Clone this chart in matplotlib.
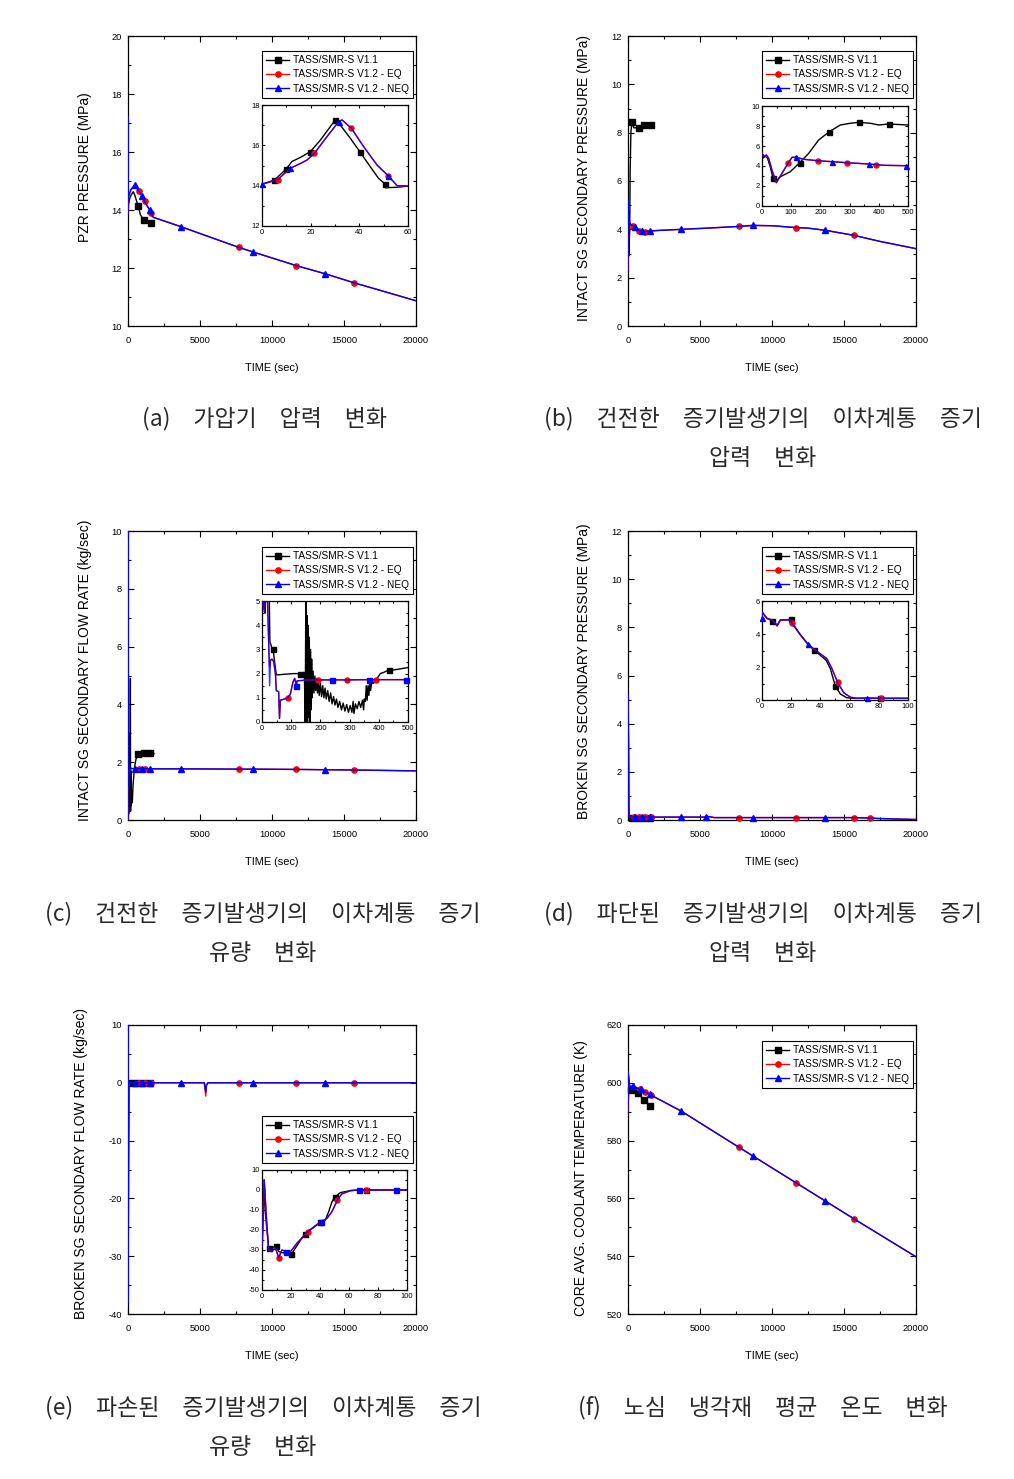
import numpy as np
import matplotlib
matplotlib.use('Agg')
import matplotlib.pyplot as plt
from matplotlib.ticker import MultipleLocator
from matplotlib.lines import Line2D
from matplotlib import font_manager

W, H = 1014, 1479
_names = {f.name for f in font_manager.fontManager.ttflist}
if 'Liberation Sans Narrow' in _names:
    NARROW = ['Liberation Sans Narrow', 'DejaVu Sans']
    NS = 1.0
else:
    NARROW = ['Liberation Sans', 'DejaVu Sans']
    NS = 0.86
SANS = ['Liberation Sans', 'DejaVu Sans']
KR = ['Noto Sans CJK KR', 'DejaVu Sans']
plt.rcParams['font.family'] = NARROW
plt.rcParams['axes.unicode_minus'] = False

# ---------------- text ----------------
LEGEND_LABELS = ['TASS/SMR-S V1.1', 'TASS/SMR-S V1.2 - EQ', 'TASS/SMR-S V1.2 - NEQ']
X_LABEL = 'TIME (sec)'
Y_LABELS = ['PZR PRESSURE (MPa)', 'INTACT SG SECONDARY PRESSURE (MPa)',
            'INTACT SG SECONDARY FLOW RATE (kg/sec)', 'BROKEN SG SECONDARY PRESSURE (MPa)',
            'BROKEN SG SECONDARY FLOW RATE (kg/sec)', 'CORE AVG. COOLANT TEMPERATURE (K)']
SP = '\u3000'
CAPTIONS = [
    ['(a)' + SP + '가압기' + SP + '압력' + SP + '변화'],
    ['(b)' + SP + '건전한' + SP + '증기발생기의' + SP + '이차계통' + SP + '증기', '압력' + SP + '변화'],
    ['(c)' + SP + '건전한' + SP + '증기발생기의' + SP + '이차계통' + SP + '증기', '유량' + SP + '변화'],
    ['(d)' + SP + '파단된' + SP + '증기발생기의' + SP + '이차계통' + SP + '증기', '압력' + SP + '변화'],
    ['(e)' + SP + '파손된' + SP + '증기발생기의' + SP + '이차계통' + SP + '증기', '유량' + SP + '변화'],
    ['(f)' + SP + '노심' + SP + '냉각재' + SP + '평균' + SP + '온도' + SP + '변화'],
]

# ---------------- data: (a) PZR pressure ----------------
a_t_v11 = [0, 40, 120, 250, 370, 480, 600, 715, 850, 1000, 1130, 1300, 1575, 1800]
a_p_v11 = [13.8, 14.2, 14.4, 14.55, 14.63, 14.5, 14.3, 14.15, 13.85, 13.72, 13.65, 13.6, 13.54, 13.52]
a_mk_v11 = [715, 1130, 1575]
a_t_eq = [0, 5, 15, 60, 200, 460, 760, 950, 1150, 1500, 1600, 1750, 3700, 7700, 8700, 11700, 13700, 15700, 20000]
a_p_eq = [13.9, 17.2, 14.4, 14.5, 14.7, 14.85, 14.65, 14.5, 14.3, 14.0, 13.88, 13.75, 13.42, 12.71, 12.55, 12.08, 11.8, 11.49, 10.87]
a_mk_eq = [760, 1150, 1600, 7700, 11700, 15700]
a_t_neq = [0, 5, 15, 60, 200, 460, 760, 950, 1150, 1500, 1600, 1750, 3700, 7700, 8700, 11700, 13700, 15700, 20000]
a_p_neq = [13.9, 17.2, 14.4, 14.5, 14.7, 14.86, 14.65, 14.5, 14.3, 14.0, 13.88, 13.75, 13.42, 12.71, 12.55, 12.08, 11.8, 11.49, 10.87]
a_mk_neq = [460, 950, 1500, 3700, 8700, 13700]
# inset (a)
ai_t_v11 = [0, 5.1, 10, 12.3, 15.8, 19.9, 24, 30.1, 32.2, 36.3, 40.4, 44.5, 47.9, 50.5, 50.7, 55.5, 60]
ai_p_v11 = [14.07, 14.28, 14.83, 15.2, 15.4, 15.69, 16.26, 17.26, 17.0, 16.35, 15.65, 14.94, 14.36, 14.1, 13.9, 13.92, 13.98]
ai_mk_v11 = [5.1, 10, 19.9, 30.1, 40.4, 50.5]
ai_t_eq = [0, 6.4, 11.6, 15.8, 18.5, 21.5, 26.7, 31.5, 32.9, 36.7, 41.8, 47.3, 51.8, 55.5, 60]
ai_p_eq = [14.07, 14.3, 14.86, 15.1, 15.27, 15.6, 16.43, 17.17, 17.26, 16.85, 15.93, 15.02, 14.5, 14.0, 13.98]
ai_mk_eq = [6.4, 21.5, 36.7, 51.8]
ai_t_neq = [0, 6.4, 11.6, 15.8, 18.5, 21.5, 26.7, 31.5, 32.9, 36.7, 41.8, 47.3, 51.8, 55.5, 60]
ai_p_neq = [14.07, 14.3, 14.86, 15.1, 15.27, 15.6, 16.43, 17.17, 17.26, 16.85, 15.93, 15.02, 14.5, 14.0, 13.98]
ai_mk_neq = [0, 11.6, 31.5, 51.8]

# ---------------- data: (b) intact SG pressure ----------------
b_t_v11 = [0, 30, 60, 90, 120, 150, 200, 230, 300, 400, 550, 760, 900, 1130, 1300, 1575, 1750]
b_p_v11 = [5.0, 4.7, 2.9, 3.5, 4.0, 6.4, 8.0, 8.2, 8.45, 8.2, 8.2, 8.2, 8.25, 8.3, 8.25, 8.3, 8.25]
b_mk_v11 = [300, 760, 1130, 1575]
b_t_eq = [0, 10, 25, 50, 100, 200, 345, 460, 760, 950, 1150, 1500, 2000, 3700, 5500, 7700, 8700, 10000, 11700, 12500, 13700, 15700, 17500, 20000]
b_p_eq = [2.3, 5.2, 4.7, 4.5, 4.3, 4.2, 4.14, 4.08, 3.95, 3.92, 3.9, 3.92, 3.95, 4.0, 4.05, 4.12, 4.15, 4.15, 4.07, 4.05, 3.96, 3.75, 3.5, 3.2]
b_mk_eq = [345, 760, 1150, 7700, 11700, 15700]
b_t_neq = b_t_eq
b_p_neq = [2.3, 5.2, 4.7, 4.5, 4.3, 4.2, 4.14, 4.1, 3.95, 3.92, 3.9, 3.93, 3.95, 4.0, 4.05, 4.12, 4.17, 4.15, 4.07, 4.05, 3.96, 3.75, 3.5, 3.2]
b_mk_neq = [460, 950, 1500, 3700, 8700, 13700]
# inset (b)
bi_t_v11 = [0, 5, 11, 19, 28.5, 37.7, 49, 62.8, 97, 129, 160, 194, 230.6, 268, 302, 331, 371, 400, 434, 500]
bi_p_v11 = [5.27, 4.8, 5.0, 4.77, 3.9, 2.77, 2.5, 2.93, 3.43, 4.33, 5.27, 6.6, 7.43, 8.1, 8.27, 8.37, 8.27, 8.1, 8.2, 8.1]
bi_mk_v11 = [37.7, 129, 230.6, 331, 434]
bi_t_eq = [0, 8, 15, 22.8, 34, 49, 68.5, 89, 103, 116, 143, 190.6, 240, 291, 365, 391, 417, 493, 500]
bi_p_eq = [5.27, 4.93, 5.1, 4.77, 3.6, 2.33, 3.27, 4.27, 4.87, 4.87, 4.67, 4.53, 4.43, 4.33, 4.2, 4.13, 4.07, 4.03, 4.03]
bi_mk_eq = [89, 190.6, 291, 391]
bi_t_neq = bi_t_eq
bi_p_neq = [5.27, 4.93, 5.1, 4.77, 3.6, 2.33, 3.27, 4.27, 4.87, 4.9, 4.67, 4.53, 4.43, 4.33, 4.2, 4.13, 4.07, 4.03, 4.03]
bi_mk_neq = [116, 240, 365, 493]

# ---------------- data: (c) intact SG flow ----------------
c_t_v11 = [0, 15, 30, 45, 60, 75, 90, 105, 120, 135, 150, 165, 180, 200, 230, 260, 300, 350, 450, 550, 700, 900, 1100, 1300, 1550, 1800]
c_f_v11 = [2.8, 0.1, 1.5, 0.2, 2.5, 3.0, 2.0, 0.3, 1.8, 0.6, 2.0, 4.9, 0.3, 1.7, 0.5, 1.0, 0.6, 1.2, 1.8, 2.1, 2.3, 2.35, 2.33, 2.33, 2.32, 2.3]
c_mk_v11 = [700, 1100, 1550]
c_t_eq = [0, 5, 20, 40, 80, 120, 200, 460, 760, 950, 1150, 1500, 3700, 7700, 8700, 11700, 13700, 15700, 20000]
c_f_eq = [0.0, 10.0, 2.5, 1.5, 1.2, 1.75, 1.78, 1.78, 1.78, 1.78, 1.78, 1.77, 1.77, 1.76, 1.76, 1.75, 1.74, 1.73, 1.7]
c_mk_eq = [760, 1150, 7700, 11700, 15700]
c_t_neq = c_t_eq
c_f_neq = c_f_eq
c_mk_neq = [460, 950, 1500, 3700, 8700, 13700]
# inset (c)
ci_t_v11 = [0, 8, 11, 14, 24, 27, 29, 34, 38, 43, 49, 57, 74, 108, 131, 143, 145, 148, 150, 152, 154, 156, 158, 160,
            162, 164, 166, 168, 170, 172, 175, 178, 181, 184, 187, 190, 193, 196, 200, 204, 208, 212, 216, 220, 225,
            230, 235, 240, 245, 250, 255, 260, 266, 272, 278, 284, 290, 296, 302, 308, 312, 315, 320, 326, 332, 338,
            344, 348, 350, 354, 357, 360, 363, 366, 369, 372, 376, 382, 394, 405, 417, 434, 451, 500]
ci_f_v11 = [6.0, 5.0, 4.5, 6.0, 6.0, 3.3, 3.25, 3.05, 3.0, 2.5, 1.95, 1.95, 1.97, 2.0, 2.0, 2.05, 2.05, 0.0, 5.0, 0.0,
            4.4, 0.0, 4.0, 0.2, 3.5, 0.0, 3.0, 0.5, 2.6, 1.0, 2.1, 1.2, 1.9, 1.3, 1.8, 1.2, 1.7, 1.1, 1.6, 1.05, 1.5,
            1.0, 1.4, 0.95, 1.3, 0.85, 1.2, 0.75, 1.05, 0.7, 0.95, 0.6, 0.85, 0.5, 0.78, 0.45, 0.72, 0.4, 0.68, 0.4,
            0.85, 0.35, 0.75, 0.55, 0.85, 0.6, 0.9, 0.5, 0.95, 0.85, 1.5, 0.9, 1.5, 1.1, 1.6, 1.3, 1.7, 1.6, 1.8,
            2.0, 2.05, 2.15, 2.15, 2.25]
ci_mk_v11 = [38, 131, 434]
ci_t_eq = [0, 3, 8, 10, 17, 23, 26, 29, 34, 40, 46, 49, 57, 60, 63, 74, 89, 97, 106, 112, 118, 120, 150, 192, 240, 291, 368, 391, 493, 500]
ci_f_eq = [6.0, 5.0, 4.55, 6.0, 6.0, 3.2, 2.3, 2.55, 2.6, 2.5, 2.0, 1.3, 1.25, 0.15, 0.9, 0.94, 1.0, 1.15, 1.65, 1.8, 1.5, 1.7, 1.73, 1.74, 1.74, 1.74, 1.75, 1.75, 1.75, 1.75]
ci_mk_eq = [89, 192, 291, 391]
ci_t_neq = ci_t_eq
ci_f_neq = [6.0, 5.0, 4.55, 6.0, 6.0, 3.2, 1.5, 2.55, 2.6, 2.5, 2.0, 1.3, 1.25, 0.15, 0.9, 0.94, 1.0, 1.15, 1.65, 1.8, 1.5, 1.7, 1.73, 1.74, 1.74, 1.74, 1.75, 1.75, 1.75, 1.75]
ci_mk_neq = [118, 240, 368, 493]

# ---------------- data: (d) broken SG pressure ----------------
d_t_v11 = [0, 20, 50, 80, 300, 700, 1100, 1550, 1800]
d_p_v11 = [5.0, 4.8, 0.8, 0.1, 0.1, 0.1, 0.1, 0.1, 0.1]
d_mk_v11 = [300, 700, 1100, 1550]
d_t_eq = [0, 1, 30, 60, 200, 400, 460, 760, 950, 1150, 1500, 1600, 3700, 5400, 5500, 6000, 7700, 8700, 11700, 13700, 15700, 16800, 17500, 20000]
d_p_eq = [5.0, 5.2, 3.4, 0.15, 0.12, 0.12, 0.12, 0.12, 0.12, 0.12, 0.12, 0.12, 0.12, 0.12, 0.15, 0.1, 0.1, 0.1, 0.1, 0.1, 0.1, 0.08, 0.06, 0.02]
d_mk_eq = [400, 760, 1150, 1600, 7700, 11700, 15700, 16800]
d_t_neq = d_t_eq
d_p_neq = d_p_eq
d_mk_neq = [460, 950, 1500, 3700, 5400, 8700, 13700]
# inset (d)
di_t_v11 = [0, 0.3, 3.4, 6.8, 9.1, 10.3, 12.6, 19.9, 20.5, 26.3, 31.3, 35.4, 44, 46.8, 50.2, 53.7, 58, 62.8, 81, 100]
di_p_v11 = [5.0, 5.3, 4.95, 4.8, 4.65, 4.5, 4.85, 4.88, 4.7, 3.95, 3.4, 3.05, 2.4, 1.9, 0.85, 0.36, 0.14, 0.1, 0.1, 0.1]
di_mk_v11 = [6.8, 19.9, 35.4, 50.2, 81]
di_t_eq = [0, 0.3, 3.4, 6.8, 9.1, 10.3, 12.6, 19.4, 20.5, 26.3, 31.3, 35.4, 44.5, 47.9, 51.8, 55.9, 60.5, 65, 72, 81.7, 100]
di_p_eq = [5.0, 5.3, 4.95, 4.85, 4.65, 4.5, 4.85, 4.85, 4.65, 3.95, 3.4, 3.1, 2.5, 1.9, 1.07, 0.45, 0.17, 0.1, 0.12, 0.1, 0.1]
di_mk_eq = [20.5, 51.8, 81.7]
di_t_neq = di_t_eq
di_p_neq = di_p_eq
di_mk_neq = [0, 31.3, 72]

# ---------------- data: (e) broken SG flow ----------------
e_t_v11 = [0, 2, 5, 10, 20, 60, 300, 700, 1100, 1550, 1800]
e_f_v11 = [-33, 5, -30, -32, -16, 0, 0, 0, 0, 0, 0]
e_mk_v11 = [300, 700, 1100, 1550]
e_t_eq = [0, 2, 5, 12, 30, 60, 460, 760, 950, 1150, 1500, 1600, 3700, 5300, 5400, 5450, 5550, 7700, 8700, 11700, 13700, 15700, 20000]
e_f_eq = [-28, 10, -38, -33, -21, 0, 0, 0, 0, 0, 0, 0, 0, 0, -2.3, -0.5, 0, 0, 0, 0, 0, 0, 0]
e_mk_eq = [760, 1150, 1600, 7700, 11700, 15700]
e_t_neq = e_t_eq
e_f_neq = [-28, 10, -38, -33, -21, 0, 0, 0, 0, 0, 0, 0, 0, 0, -1.6, -0.3, 0, 0, 0, 0, 0, 0, 0]
e_mk_neq = [460, 950, 1500, 3700, 8700, 13700]
# inset (e)
ei_t_v11 = [0, 1.6, 2.3, 4.6, 5.7, 7.6, 9.9, 11.5, 13.8, 20.2, 29.4, 39.8, 43.7, 46, 48.3, 50, 54, 61, 67.8, 72, 100]
ei_f_v11 = [-33.3, 5, -11.7, -29, -30, -28.7, -28, -30.8, -31.3, -32.2, -22, -16.2, -15, -10.8, -5.8, -3.7, -1.3, -0.3, 0, 0, 0]
ei_mk_v11 = [4.6, 9.9, 20.2, 29.4, 39.8, 50, 72]
ei_t_eq = [0, 1.5, 3.4, 4.6, 6.9, 9.2, 11.5, 13.8, 16.8, 19.5, 24, 31.7, 40.9, 44.8, 48.3, 52, 55, 61, 67, 72, 92.4, 100]
ei_f_eq = [-28, 5, -18, -30, -30.8, -28.8, -33.8, -30, -30.8, -31, -26.7, -20.8, -15.8, -14.2, -10.8, -5, -2, -0.3, 0, 0, 0, 0]
ei_mk_eq = [11.5, 31.7, 52, 72]
ei_t_neq = ei_t_eq
ei_f_neq = ei_f_eq
ei_mk_neq = [16.8, 40.9, 67, 92.4]

# ---------------- data: (f) core avg coolant temperature ----------------
f_t_v11 = [0, 20, 46, 100, 231, 347, 694, 1110, 1549, 1734]
f_T_v11 = [590, 593.5, 597.5, 597.2, 597.5, 597.9, 596.4, 594.0, 592.1, 591.5]
f_mk_v11 = [231, 694, 1110, 1549]
f_t_eq = [0, 10, 116, 347, 460, 809, 925, 1156, 1503, 1572, 3700, 7700, 8700, 11700, 13700, 15700, 20000]
f_T_eq = [590, 603.8, 598.7, 598.9, 598.7, 597.7, 597.8, 596.9, 596.1, 595.8, 590.2, 577.7, 574.6, 565.3, 559.1, 552.9, 539.8]
f_mk_eq = [809, 1156, 1572, 7700, 11700, 15700]
f_t_neq = f_t_eq
f_T_neq = f_T_eq
f_mk_neq = [347, 925, 1503, 3700, 8700, 13700]

# ---------------- helpers ----------------
fig = plt.figure(figsize=(W / 100, H / 100), dpi=100)
fig.patch.set_facecolor('white')


def rect(x0, y0, x1, y1):
    return [x0 / W, 1 - y1 / H, (x1 - x0) / W, (y1 - y0) / H]


def series(ax, t, y, mk, color, marker, ms, lw=1.0, alpha=1.0, z=2):
    t = np.asarray(t, float)
    y = np.asarray(y, float)
    idx = sorted(set(int(np.argmin(np.abs(t - m))) for m in mk))
    ax.plot(t, y, color=color, lw=lw, alpha=alpha, zorder=z)
    ax.plot(t[idx], y[idx], ls='none', marker=marker, ms=ms, color=color,
            mec=color, mfc=color, zorder=z + 0.5, clip_on=False)


def style(ax, xlim, ylim, xmaj, xmin, ymaj, ymin, fs, padx, pady, tl):
    ax.set_xlim(*xlim)
    ax.set_ylim(*ylim)
    ax.xaxis.set_major_locator(MultipleLocator(xmaj))
    ax.xaxis.set_minor_locator(MultipleLocator(xmin))
    ax.yaxis.set_major_locator(MultipleLocator(ymaj))
    ax.yaxis.set_minor_locator(MultipleLocator(ymin))
    ax.tick_params(which='both', direction='in', top=True, right=True, width=0.8)
    ax.tick_params(which='major', length=tl)
    ax.tick_params(which='minor', length=tl * 0.6)
    ax.tick_params(axis='x', pad=padx, labelsize=fs)
    ax.tick_params(axis='y', pad=pady, labelsize=fs)
    for s in ax.spines.values():
        s.set_linewidth(0.9)


def main_axes(box, ylim, ymaj, ymin, ylabel, ylx, yly):
    ax = fig.add_axes(rect(*box))
    style(ax, (0, 20000), ylim, 5000, 2500, ymaj, ymin, 7.8 * NS, 7, 4.5, 4)
    ax.set_xlabel(X_LABEL, fontsize=9.2 * NS, family=NARROW)
    ax.xaxis.set_label_coords(0.5, -0.128)
    ax.set_ylabel(ylabel, fontsize=10, family=SANS)
    ax.yaxis.set_label_coords(ylx, yly)
    return ax


def inset_axes(box, xlim, ylim, xmaj, xmin, ymaj, ymin):
    ax = fig.add_axes(rect(*box))
    style(ax, xlim, ylim, xmaj, xmin, ymaj, ymin, 6.4 * NS, 2.5, 1.5, 2.5)
    return ax


def legend(ax, x0, y0):
    hs = [Line2D([], [], color='black', marker='s', ms=4, lw=1.0),
          Line2D([], [], color='red', marker='o', ms=3.8, lw=1.0),
          Line2D([], [], color='blue', marker='^', ms=4, lw=1.0)]
    leg = ax.legend(hs, LEGEND_LABELS, loc='upper left', bbox_to_anchor=(x0 / W, 1 - y0 / H),
                    bbox_transform=fig.transFigure, frameon=True, fancybox=False, edgecolor='black',
                    framealpha=1, borderpad=0.4, labelspacing=0.42, handlelength=2.3,
                    handletextpad=0.35, borderaxespad=0, prop={'family': NARROW, 'size': 8.5 * NS})
    leg.get_frame().set_linewidth(0.8)
    return leg


def three(ax, tv, yv, mv, te, ye, me, tn, yn, mn, inset=False, neq_marker='^'):
    ms = 3.6 if inset else 3.8
    series(ax, tv, yv, mv, 'black', 's', ms)
    series(ax, te, ye, me, 'red', 'o', ms, z=3)
    series(ax, tn, yn, mn, 'blue', neq_marker, ms, alpha=0.8 if inset else 1.0, z=4)


def caption(lines, cx, ys):
    for s, y in zip(lines, ys):
        fig.text(cx / W, 1 - y / H, s, ha='center', va='center', fontsize=16.5,
                 family=KR, color='#2a2a2a')


# ---------------- (a) ----------------
ax = main_axes((128, 36, 416, 326), (10, 20), 2, 1, Y_LABELS[0], -0.125, 0.548)
three(ax, a_t_v11, a_p_v11, a_mk_v11, a_t_eq, a_p_eq, a_mk_eq, a_t_neq, a_p_neq, a_mk_neq)
legend(ax, 262, 51)
ix = inset_axes((262, 105, 408, 226), (0, 60), (12, 18), 20, 10, 2, 1)
three(ix, ai_t_v11, ai_p_v11, ai_mk_v11, ai_t_eq, ai_p_eq, ai_mk_eq, ai_t_neq, ai_p_neq, ai_mk_neq, inset=True)
caption(CAPTIONS[0], 264, [419])

# ---------------- (b) ----------------
ax = main_axes((628, 36, 916, 326), (0, 12), 2, 1, Y_LABELS[1], -0.128, 0.512)
three(ax, b_t_v11, b_p_v11, b_mk_v11, b_t_eq, b_p_eq, b_mk_eq, b_t_neq, b_p_neq, b_mk_neq)
legend(ax, 762, 51)
ix = inset_axes((762, 106, 908, 206), (0, 500), (0, 10), 100, 50, 2, 1)
three(ix, bi_t_v11, bi_p_v11, bi_mk_v11, bi_t_eq, bi_p_eq, bi_mk_eq, bi_t_neq, bi_p_neq, bi_mk_neq, inset=True)
caption(CAPTIONS[1], 763, [419, 459])

# ---------------- (c) ----------------
ax = main_axes((128, 531, 416, 820), (0, 10), 2, 1, Y_LABELS[2], -0.126, 0.519)
three(ax, c_t_v11, c_f_v11, c_mk_v11, c_t_eq, c_f_eq, c_mk_eq, c_t_neq, c_f_neq, c_mk_neq)
legend(ax, 262, 547)
ix = inset_axes((262, 601, 408, 722), (0, 500), (0, 5), 100, 50, 1, 0.5)
three(ix, ci_t_v11, ci_f_v11, ci_mk_v11, ci_t_eq, ci_f_eq, ci_mk_eq, ci_t_neq, ci_f_neq, ci_mk_neq,
      inset=True, neq_marker='s')
caption(CAPTIONS[2], 263, [914, 954])

# ---------------- (d) ----------------
ax = main_axes((628, 531, 916, 820), (0, 12), 2, 1, Y_LABELS[3], -0.128, 0.516)
three(ax, d_t_v11, d_p_v11, d_mk_v11, d_t_eq, d_p_eq, d_mk_eq, d_t_neq, d_p_neq, d_mk_neq)
legend(ax, 762, 547)
ix = inset_axes((762, 601, 908, 700), (0, 100), (0, 6), 20, 10, 2, 1)
three(ix, di_t_v11, di_p_v11, di_mk_v11, di_t_eq, di_p_eq, di_mk_eq, di_t_neq, di_p_neq, di_mk_neq, inset=True)
caption(CAPTIONS[3], 763, [914, 954])

# ---------------- (e) ----------------
ax = main_axes((128, 1025, 416, 1314), (-40, 10), 10, 5, Y_LABELS[4], -0.139, 0.52)
three(ax, e_t_v11, e_f_v11, e_mk_v11, e_t_eq, e_f_eq, e_mk_eq, e_t_neq, e_f_neq, e_mk_neq)
legend(ax, 262, 1116)
ix = inset_axes((262, 1170, 407, 1290), (0, 100), (-50, 10), 20, 10, 10, 5)
three(ix, ei_t_v11, ei_f_v11, ei_mk_v11, ei_t_eq, ei_f_eq, ei_mk_eq, ei_t_neq, ei_f_neq, ei_mk_neq,
      inset=True, neq_marker='s')
caption(CAPTIONS[4], 263, [1408, 1448])

# ---------------- (f) ----------------
ax = main_axes((628, 1025, 916, 1314), (520, 620), 20, 10, Y_LABELS[5], -0.139, 0.47)
three(ax, f_t_v11, f_T_v11, f_mk_v11, f_t_eq, f_T_eq, f_mk_eq, f_t_neq, f_T_neq, f_mk_neq)
legend(ax, 762, 1041)
caption(CAPTIONS[5], 763, [1408])

fig.savefig('out.png', dpi=100, facecolor='white')
